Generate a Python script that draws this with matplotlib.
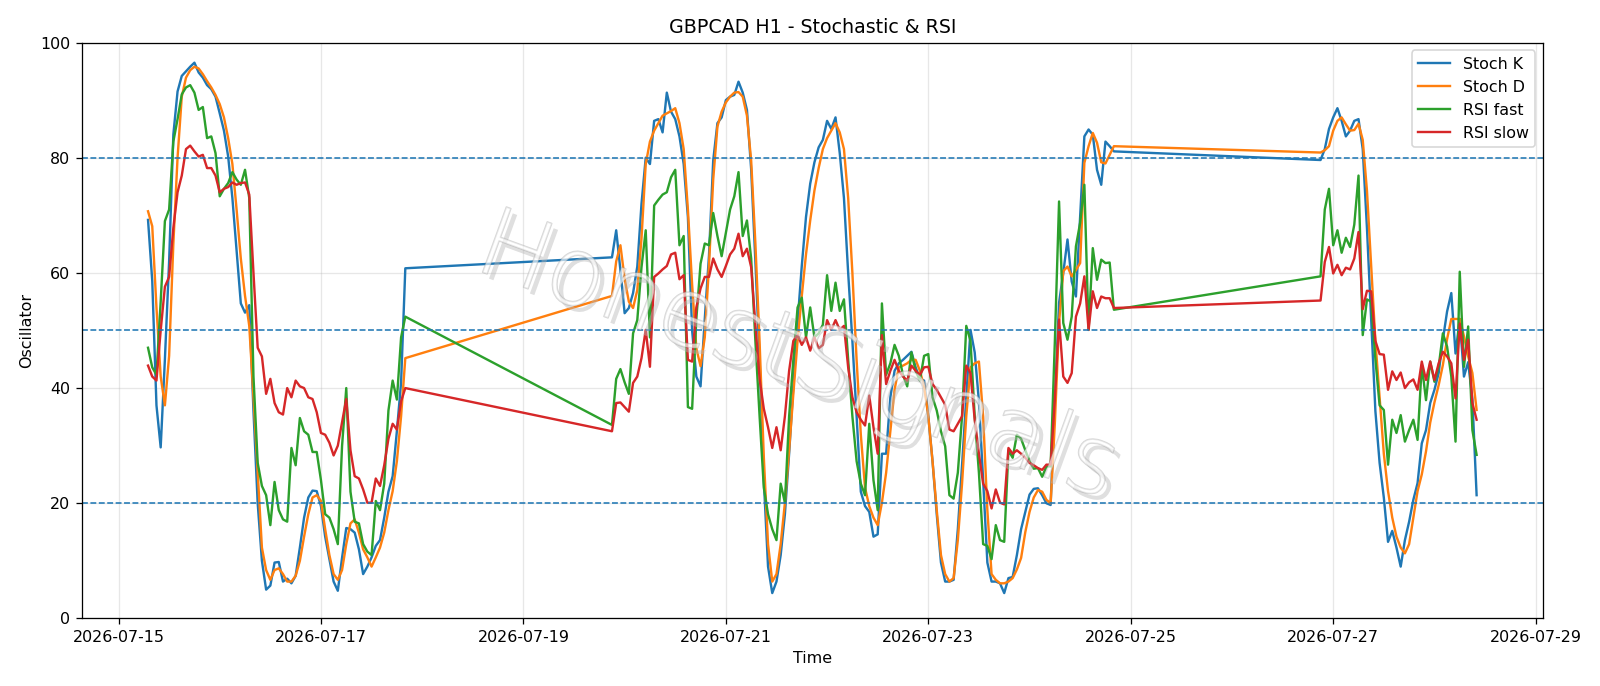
import numpy as np
import pandas as pd
import matplotlib
matplotlib.use("Agg")
import matplotlib.pyplot as plt
import matplotlib.dates as mdates
import matplotlib.patheffects as pe

plt.rcParams.update({
    'font.size': 10,
    'axes.linewidth': 0.8,
})

# hourly segments (market closed over the weekends)
seg_a = ('2026-07-15 07:00', '2026-07-17 20:00')
seg_b = ('2026-07-19 21:00', '2026-07-24 20:00')
seg_c = ('2026-07-26 21:00', '2026-07-28 10:00')
tick_days = pd.date_range('2026-07-15', '2026-07-29', freq='2D')

# --- Stoch K ---
stoch_k_a = [69.2, 58.6, 37, 29.7, 45, 62, 84, 91.5, 94.2, 95,
             95.8, 96.5, 94.8, 93.9, 92.6, 91.9, 90.6, 87.7, 84.7, 80.2,
             73, 63.8, 54.7, 53.1, 54.4, 36, 20, 10, 5, 5.7,
             9.7, 9.8, 6.4, 6.9, 6.1, 7.4, 12.3, 17.5, 21, 22.2,
             22.1, 19.5, 14.2, 10.3, 6.4, 4.8, 10.5, 15.7, 15.5, 14.9,
             12, 7.7, 9, 10.6, 12.6, 13.6, 17.5, 22, 24.7, 32.5,
             41, 60.8]
stoch_k_b = [62.7, 67.4, 60.5, 53, 53.9, 56.5, 61.1, 72, 80, 78.9,
             86.4, 86.7, 84.4, 91.3, 88, 86.7, 83.7, 78.9, 69.7, 50,
             42, 40.3, 52, 63, 79.5, 86, 87, 90, 90.6, 90.9,
             93.2, 91.3, 88.3, 78, 62, 45, 24, 9, 4.4, 6.4,
             11, 18.1, 28.6, 40.3, 51.4, 61.2, 69.7, 75.5, 79.2, 81.8,
             83.1, 86.4, 85, 87, 80.8, 73, 60, 48.2, 35.1, 22,
             19.5, 18.5, 14.2, 14.6, 28.6, 28.6, 38.4, 43, 44.3, 44.9,
             45.6, 46.3, 43.6, 41.6, 41.3, 35.1, 27.3, 18.1, 9.7, 6.4,
             6.4, 6.7, 15.5, 26.6, 38.4, 50.1, 46.2, 37.7, 24, 9.7,
             6.4, 6.4, 6.1, 4.4, 7, 7.2, 11, 15.5, 18.5, 21.5,
             22.5, 22.6, 21.4, 20, 19.7, 37.5, 54.8, 60, 65.8, 58.5,
             55.9, 69.8, 83.7, 84.9, 84, 77.9, 75.3, 82.8, 82, 81.1]
stoch_k_c = [79.6, 81.5, 85, 87, 88.6, 86.4, 83.7, 84.7, 86.4, 86.7,
             81.5, 67.8, 52, 36, 27, 21, 13.3, 15.2, 12.3, 9,
             13.6, 16.8, 20.6, 23.5, 30.4, 32.7, 37.4, 39.7, 42.6, 48.4,
             53.3, 56.5, 46, 52, 42, 44.5, 38, 21.4]

# --- Stoch D ---
stoch_d_a = [70.7, 68.1, 54, 42, 37, 45.6, 65, 80, 90.6, 93.9,
             95.2, 95.8, 95.5, 94.5, 93.3, 92.2, 90.9, 89.3, 87, 83.4,
             78.9, 71, 62.5, 56, 50.8, 38.4, 25.3, 12.3, 8.4, 6.7,
             8.4, 8.7, 7.7, 6.4, 6.4, 7.4, 10, 14.2, 18.1, 21,
             21.4, 20.4, 15.5, 11, 7.7, 6.7, 8.4, 12.9, 16.5, 17.2,
             14.9, 12, 10.6, 9, 10.6, 12.3, 14.9, 18.8, 22.1, 27.3,
             35.1, 45.2]
stoch_d_b = [56, 62, 64.8, 59, 55, 53.9, 57, 66, 78.9, 82.8,
             84.7, 86, 87.3, 87.7, 88.1, 88.6, 86, 81.5, 71, 58,
             46.9, 43.8, 48.8, 61.2, 76.2, 85.4, 88, 89.6, 90.6, 91.3,
             91.4, 90.6, 87.3, 79.5, 65.1, 48, 28, 12.9, 6.4, 7.7,
             12.9, 20.1, 29.2, 39, 48.2, 56, 63.2, 69.1, 74.3, 78.2,
             81.5, 83.4, 84.7, 86, 84.4, 81.5, 73, 60, 44.9, 31.9,
             22.7, 19.5, 17.5, 16.2, 20.1, 25.3, 32.5, 39.7, 43.6, 43.9,
             44.3, 44.9, 44.9, 43, 40.3, 35.1, 27.3, 18.8, 11, 7.7,
             6.4, 7, 13.6, 23.4, 35.1, 43.6, 44.3, 44.6, 35.1, 18.8,
             7.7, 6.7, 6.1, 6.1, 6.4, 7, 8.5, 10.5, 15, 18.5,
             21, 22.3, 22, 20.6, 20, 33.9, 51.3, 60.3, 61.1, 59.4,
             60.5, 61.7, 79.1, 82, 84.3, 82.6, 79.2, 79, 80.5, 82]
stoch_d_c = [80.9, 81.3, 82, 84.7, 86.4, 87, 85.8, 84.7, 84.8, 85.9,
             83.1, 74.3, 61.2, 48.2, 38.4, 28.6, 22.1, 17.5, 14.2, 12.3,
             11.3, 12.9, 17.5, 22.1, 25, 29, 34, 37.5, 40.5, 44,
             48.5, 52, 52, 52, 49, 45.5, 42.6, 36.2]

# --- RSI fast ---
rsi_fast_a = [47, 43.6, 42.3, 55, 69, 71, 82.8, 86.7, 91, 92.2,
              92.6, 91.3, 88.3, 88.8, 83.4, 83.7, 80.8, 73.3, 74.6, 75.6,
              77.5, 76.2, 75.3, 77.9, 73, 42, 27, 23, 21.4, 16.2,
              23.7, 18.8, 17.2, 16.8, 29.6, 26.6, 34.8, 32.5, 31.9, 28.9,
              28.9, 24, 18.1, 17.5, 15.5, 12.9, 29.9, 40, 22, 16.8,
              16.5, 12.9, 11.6, 11, 20.4, 18.8, 23.4, 36.1, 41.3, 38,
              48.8, 52.4]
rsi_fast_b = [33.6, 41.6, 43.3, 41, 39, 49.5, 51.8, 61, 67.4, 48.8,
              71.7, 72.7, 73.6, 74, 76.6, 77.9, 64.8, 66.4, 36.7, 36.4,
              52, 61.6, 65.1, 64.8, 70.4, 66.4, 62.9, 67, 71, 73.3,
              77.5, 66.4, 69.1, 62.5, 48.2, 35.1, 22.7, 18.1, 15.5, 13.6,
              23.4, 20.1, 35.1, 44.9, 54, 55.7, 48.8, 54, 48.8, 49.5,
              51, 59.6, 53.4, 58.3, 53.4, 55.4, 44.9, 35.1, 27.3, 23.4,
              21.4, 33.8, 24, 18.8, 54.7, 42.3, 44.3, 47.5, 45.6, 42.3,
              40.3, 46.2, 43, 41.3, 45.6, 45.9, 38.4, 36.1, 32.5, 29.9,
              21.4, 20.8, 25.3, 35.1, 50.8, 48.2, 35.1, 25.3, 12.9, 12.6,
              10.3, 16.2, 13.6, 13.3, 29.2, 27.9, 31.9, 31.2, 29.2, 27.3,
              26, 26.1, 24.6, 26.4, 26.4, 48, 72.4, 51.3, 48.4, 52.4,
              64.6, 68.7, 75.3, 50.1, 64.3, 58.8, 62.3, 61.7, 61.8, 53.6]
rsi_fast_c = [59.4, 71, 74.6, 64.8, 67.4, 63.5, 66.1, 64.5, 68.4, 76.9,
              49.2, 55.4, 55, 45, 37, 36.2, 26.7, 34.5, 32.2, 35.3,
              30.7, 32.7, 34.5, 31, 44, 37.9, 44.6, 41.1, 43.7, 49.5,
              47.2, 42, 30.7, 60.2, 43.7, 50.7, 32.7, 28.4]

# --- RSI slow ---
rsi_slow_a = [43.9, 42, 41.3, 50, 57.6, 59.3, 67.8, 74, 76.9, 81.5,
              82.1, 81.1, 80.2, 80.5, 78.2, 78.2, 76.9, 74, 74.6, 74.9,
              75.7, 75.3, 75.6, 75.7, 73.6, 60, 47, 45.5, 39, 41.6,
              37.4, 35.8, 35.4, 40, 38.4, 41.3, 40.3, 40, 38.4, 38.1,
              35.8, 32.2, 31.9, 30.5, 28.3, 30, 34, 38.1, 29.2, 24.7,
              24.3, 22.4, 20.1, 20.1, 24.3, 23, 26.6, 31.2, 33.8, 32.8,
              37.7, 40]
rsi_slow_b = [32.5, 37.4, 37.5, 36.7, 35.9, 40.9, 42, 45.2, 50.1, 43.7,
              59.3, 59.9, 60.6, 61.2, 63.2, 63.5, 58.9, 59.6, 44.9, 44.6,
              54, 57.3, 59.3, 59.3, 62.5, 60.6, 59.3, 61.2, 63.2, 64.2,
              66.8, 62.9, 64.2, 61, 51, 41.6, 36.4, 33.2, 29.6, 33.2,
              29.2, 35.1, 43, 48.2, 49.2, 47.5, 48.8, 46.5, 48.8, 46.9,
              47.5, 51.8, 50.1, 51.8, 50.1, 50.8, 43.6, 38.4, 35.8, 34.5,
              33.5, 38.7, 33.2, 28.6, 49.2, 40.7, 43, 44.9, 43, 42,
              41.3, 43.9, 43, 42.3, 43.6, 43.7, 40.7, 39.7, 38.4, 37.1,
              32.8, 32.5, 33.8, 35.1, 43.9, 42.6, 34.5, 28.6, 23.4, 22.1,
              19.1, 22.4, 20.1, 19.8, 29.6, 28.6, 29.2, 28.6, 27.9, 27,
              26.6, 26.1, 25.8, 26.7, 26.7, 38, 51.9, 42, 40.9, 42.6,
              52.4, 54.7, 59.4, 50.1, 56.8, 53.9, 55.9, 55.6, 55.6, 53.9]
rsi_slow_c = [55.2, 61.9, 64.5, 59.9, 61.4, 59.6, 60.9, 60.6, 62.5, 67.1,
              53.7, 56.9, 56.8, 48.2, 45.9, 45.8, 39.7, 42.9, 41.4, 42.7,
              40, 41, 41.5, 39.7, 44.6, 41.4, 44.6, 41.4, 44.3, 46.3,
              45.5, 44.3, 38.2, 51.2, 44.9, 48.4, 37.4, 34.5]

levels = [20, 50, 80]
series_names = ['Stoch K', 'Stoch D', 'RSI fast', 'RSI slow']


def build_times():
    parts = [pd.date_range(s, e, freq='h') for s, e in (seg_a, seg_b, seg_c)]
    return parts[0].append(parts[1]).append(parts[2])


def create_plot():
    times = build_times()
    series = [stoch_k_a + stoch_k_b + stoch_k_c,
              stoch_d_a + stoch_d_b + stoch_d_c,
              rsi_fast_a + rsi_fast_b + rsi_fast_c,
              rsi_slow_a + rsi_slow_b + rsi_slow_c]
    for s in series:
        assert len(s) == len(times), (len(s), len(times))

    fig = plt.figure(figsize=(14, 6.0025), dpi=1600 / 14)
    ax = fig.add_axes([0.051, 0.0985, 0.9134, 0.8395])

    for name, vals in zip(series_names, series):
        ax.plot(times, vals, linewidth=1.5, label=name)

    for lvl in levels:
        ax.axhline(lvl, color='C0', linestyle='--', linewidth=1)

    ax.set_ylim(0, 100)
    ax.set_title('GBPCAD H1 - Stochastic & RSI', fontsize=12)
    ax.set_xlabel('Time')
    ax.set_ylabel('Oscillator')
    ax.grid(True, alpha=0.3)
    ax.legend(loc='upper right')

    ax.set_xticks(tick_days)
    ax.xaxis.set_major_formatter(mdates.DateFormatter('%Y-%m-%d'))

    # watermark: thin grey outline, soft shadow
    ax.text(0.49, 0.45, 'HonestSignals', transform=ax.transAxes,
            fontsize=60, fontweight=200, rotation=-20, ha='center', va='center',
            color='white', alpha=0.4, zorder=10,
            path_effects=[pe.SimplePatchShadow(offset=(4, -4), shadow_rgbFace='#b8b8b8', alpha=0.45),
                          pe.Stroke(linewidth=1.0, foreground='#9a9a9a'),
                          pe.Normal()])

    fig.savefig('out.png', dpi=1600 / 14)
    return fig


if __name__ == '__main__':
    create_plot()
